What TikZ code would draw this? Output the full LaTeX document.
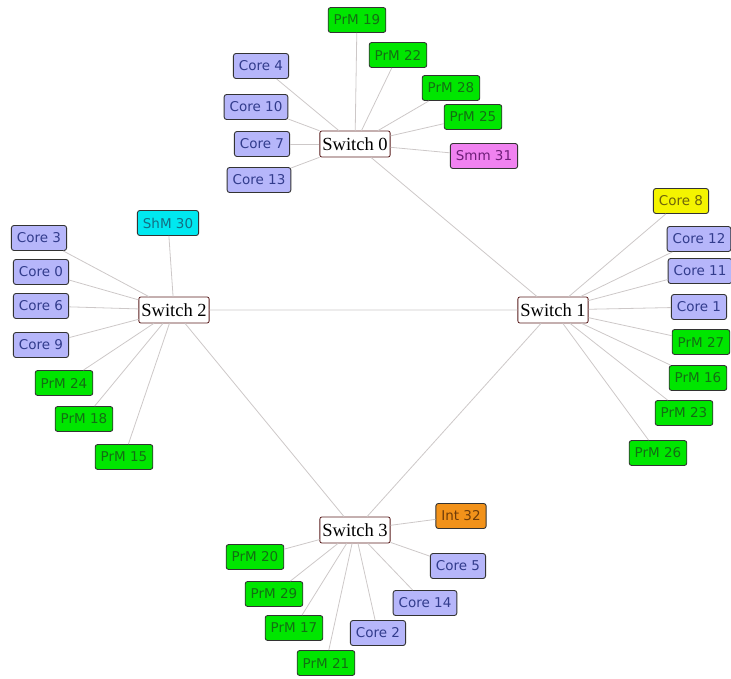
\documentclass[tikz,border=0pt]{standalone}
\usepackage{fontspec}
\newfontfamily\smallfont{DejaVu Sans}
\newfontfamily\swfont{Liberation Serif}
\definecolor{corefill}{RGB}{182,182,250}
\definecolor{coretext}{RGB}{50,60,140}
\definecolor{prmfill}{RGB}{0,230,0}
\definecolor{prmtext}{RGB}{20,110,20}
\definecolor{smmfill}{RGB}{240,130,240}
\definecolor{smmtext}{RGB}{110,30,120}
\definecolor{shmfill}{RGB}{0,232,240}
\definecolor{shmtext}{RGB}{20,110,130}
\definecolor{intfill}{RGB}{242,146,26}
\definecolor{inttext}{RGB}{110,60,10}
\definecolor{yelfill}{RGB}{244,244,0}
\definecolor{yeltext}{RGB}{110,100,10}
\definecolor{edgegray}{RGB}{205,200,200}
\definecolor{swborder}{RGB}{90,30,30}
\tikzset{
  unit/.style={draw=black!80, line width=0.9pt, rounded corners=2.5pt, minimum height=25pt, inner xsep=5.5pt, inner ysep=2pt, font=\smallfont\fontsize{13.5}{13.5}\selectfont},
  corebox/.style={unit, fill=corefill, text=coretext},
  prmbox/.style={unit, fill=prmfill, text=prmtext},
  smmbox/.style={unit, fill=smmfill, text=smmtext},
  shmbox/.style={unit, fill=shmfill, text=shmtext},
  intbox/.style={unit, fill=intfill, text=inttext},
  yelbox/.style={unit, fill=yelfill, text=yeltext},
  switchbox/.style={draw=swborder, line width=0.8pt, fill=white, rounded corners=2pt, minimum height=26pt, inner xsep=2.5pt, font=\swfont\fontsize{18.5}{18.5}\selectfont},
  link/.style={draw=edgegray, line width=0.8pt}
}
\begin{document}
\begin{tikzpicture}[x=1pt,y=-1pt]
\useasboundingbox (0,0) rectangle (731,679);
\clip (0,0) rectangle (731,679);
% switches
\node[switchbox] (s0) at (355,144) {Switch 0};
\node[switchbox] (s1) at (553,310) {Switch 1};
\node[switchbox] (s2) at (174,310) {Switch 2};
\node[switchbox] (s3) at (355,530) {Switch 3};
% switch 0 group
\node[prmbox] (p19) at (357,20) {PrM 19};
\node[prmbox] (p22) at (398,55) {PrM 22};
\node[prmbox] (p28) at (451,88) {PrM 28};
\node[prmbox] (p25) at (473,117) {PrM 25};
\node[smmbox] (m31) at (484,156) {Smm 31};
\node[corebox] (c4) at (261,66) {Core 4};
\node[corebox] (c10) at (256,107) {Core 10};
\node[corebox] (c7) at (262,144) {Core 7};
\node[corebox] (c13) at (259,180) {Core 13};
% switch 2 group
\node[shmbox] (h30) at (168,223) {ShM 30};
\node[corebox] (c3) at (39,238) {Core 3};
\node[corebox] (c0) at (41,272) {Core 0};
\node[corebox] (c6) at (41,306) {Core 6};
\node[corebox] (c9) at (41,345) {Core 9};
\node[prmbox] (p24) at (64,383) {PrM 24};
\node[prmbox] (p18) at (84,419) {PrM 18};
\node[prmbox] (p15) at (124,457) {PrM 15};
% switch 1 group
\node[yelbox] (c8) at (681,201) {Core 8};
\node[corebox] (c12) at (699,239) {Core 12};
\node[corebox] (c11) at (700,271) {Core 11};
\node[corebox] (c1) at (699,307) {Core 1};
\node[prmbox] (p27) at (701,342) {PrM 27};
\node[prmbox] (p16) at (698,378) {PrM 16};
\node[prmbox] (p23) at (684,413) {PrM 23};
\node[prmbox] (p26) at (658,453) {PrM 26};
% switch 3 group
\node[intbox] (i32) at (461,516) {Int 32};
\node[prmbox] (p20) at (255,557) {PrM 20};
\node[corebox] (c5) at (458,566) {Core 5};
\node[prmbox] (p29) at (274,594) {PrM 29};
\node[corebox] (c14) at (425,603) {Core 14};
\node[prmbox] (p17) at (294,628) {PrM 17};
\node[corebox] (c2) at (378,633) {Core 2};
\node[prmbox] (p21) at (326,663) {PrM 21};
% links
\path[link] (s0) -- (s1) (s1) -- (s2) (s2) -- (s3) (s3) -- (s1);
\foreach \n in {p19,p22,p28,p25,m31,c4,c10,c7,c13} \path[link] (s0) -- (\n);
\foreach \n in {h30,c3,c0,c6,c9,p24,p18,p15} \path[link] (s2) -- (\n);
\foreach \n in {c8,c12,c11,c1,p27,p16,p23,p26} \path[link] (s1) -- (\n);
\foreach \n in {i32,p20,c5,p29,c14,p17,c2,p21} \path[link] (s3) -- (\n);
\end{tikzpicture}
\end{document}
